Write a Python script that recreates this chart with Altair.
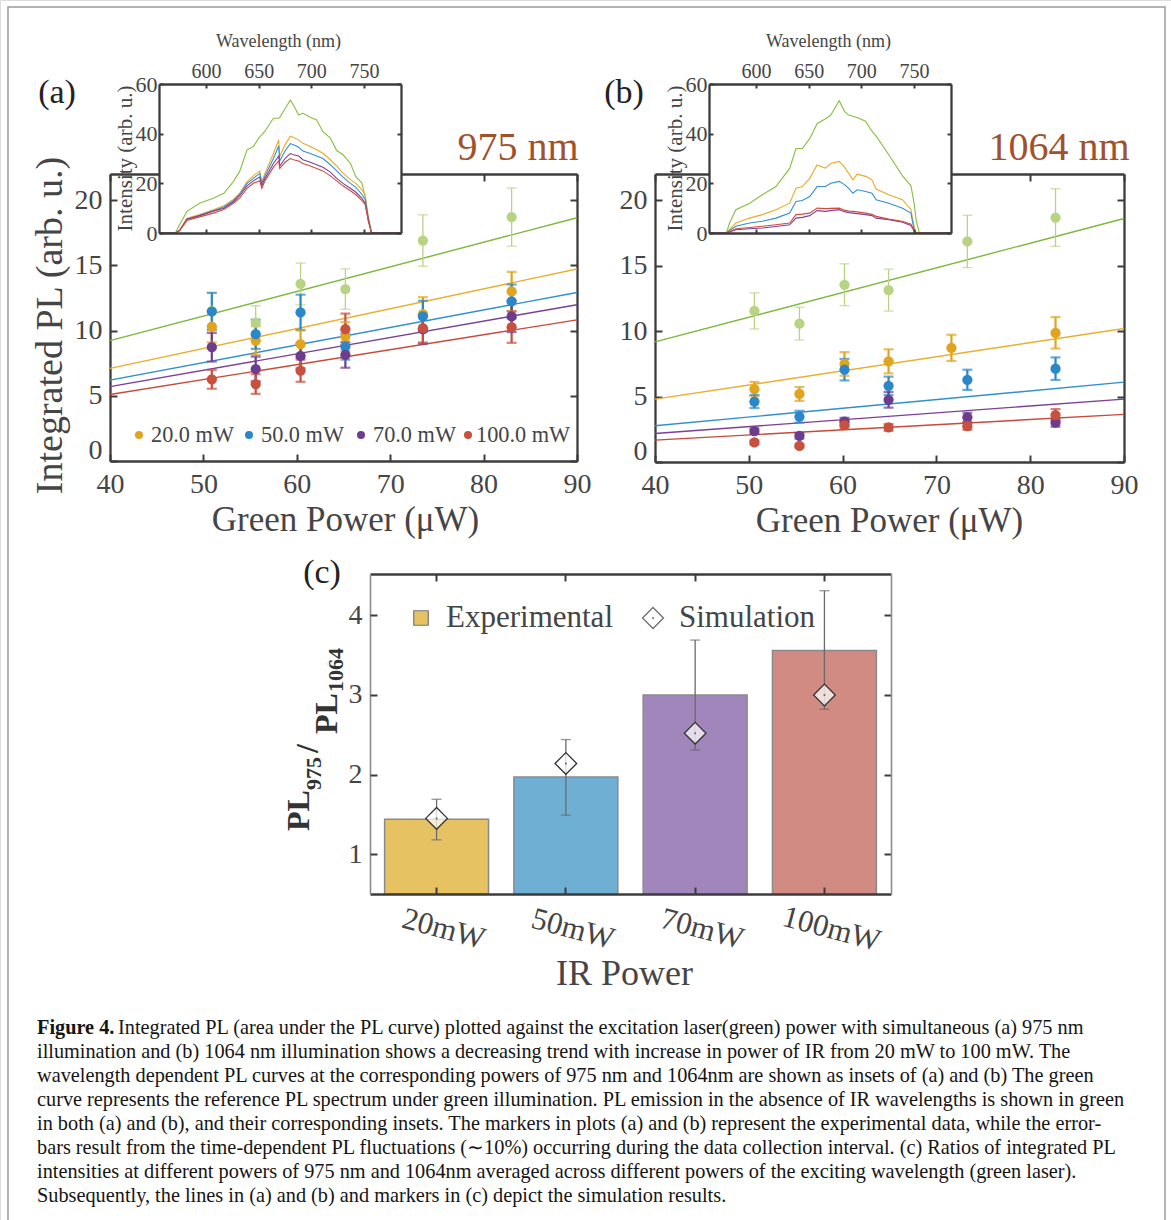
import altair as alt
import pandas as pd

W, H = 1171, 1220
SERIF = "Liberation Serif"
AXC = "#3c3c3c"
TXT = "#454545"

# ---------------- data ----------------
SERIES = ["0 mW", "20.0 mW", "50.0 mW", "70.0 mW", "100.0 mW"]
LEGEND_SERIES = SERIES[1:]
POINT_COLORS = ["#B7D383", "#E0A41E", "#2A87C9", "#6E3C8D", "#C8503F"]
LINE_COLORS = ["#7CB83B", "#E9B02E", "#2F8FD0", "#7C3F97", "#C9493A"]
SPEC_COLORS = ["#88BF42", "#EBAA24", "#3190D6", "#7E409B", "#D14C3C"]

LINE_X = [40, 90]

# panel (a): 975 nm
A_X = [50.9, 55.6, 60.4, 65.2, 73.5, 83.0]
A_Y = [
    [11.5, 10.6, 13.57, 13.18, 16.9, 18.7],
    [10.3, 9.23, 8.95, 9.54, 11.26, 13.0],
    [11.46, 9.72, 11.4, 8.77, 11.08, 12.23],
    [8.72, 7.05, 8.05, 8.13, 10.1, 11.08],
    [6.26, 5.9, 6.92, 10.1, 10.18, 10.26],
]
A_ERR = [
    [1.4, 1.3, 1.6, 1.55, 1.97, 2.23],
    [1.2, 1.1, 1.05, 1.1, 1.3, 1.5],
    [1.43, 1.12, 1.35, 1.0, 1.2, 1.3],
    [1.1, 0.95, 0.95, 0.98, 1.1, 1.2],
    [0.72, 0.75, 0.85, 1.2, 1.1, 1.2],
]
A_LINE = [[9.23, 18.65], [7.1, 14.72], [6.2, 12.92], [5.7, 11.98], [5.1, 10.82]]

# panel (b): 1064 nm
B_X = [
    [50.6, 55.4, 60.2, 64.9, 73.3, 82.7],
    [50.6, 55.4, 60.2, 64.9, 71.6, 82.7],
    [50.6, 55.4, 60.2, 64.9, 73.3, 82.7],
    [50.6, 55.4, 60.2, 64.9, 73.3, 82.7],
    [50.6, 55.4, 60.2, 64.9, 73.3, 82.7],
]
B_Y = [
    [11.54, 10.57, 13.54, 13.13, 16.85, 18.67],
    [5.57, 5.2, 7.49, 7.69, 8.72, 9.87],
    [4.62, 3.46, 7.05, 5.82, 6.28, 7.13],
    [2.36, 2.0, 3.08, 4.75, 3.41, 3.0],
    [1.49, 1.23, 2.82, 2.64, 2.74, 3.59],
]
B_ERR = [
    [1.38, 1.25, 1.6, 1.6, 2.0, 2.2],
    [0.55, 0.53, 0.9, 0.92, 1.0, 1.2],
    [0.5, 0.45, 0.82, 0.7, 0.77, 0.86],
    [0.2, 0.2, 0.3, 0.6, 0.35, 0.3],
    [0.15, 0.12, 0.28, 0.26, 0.27, 0.45],
]
B_LINE = [[9.18, 18.6], [4.8, 10.2], [2.77, 6.1], [2.18, 4.8], [1.67, 3.64]]

# inset spectra
WL_DOMAIN = [555.5, 785]
WL_A = [556, 571, 575, 582, 594, 607, 617, 626, 632, 639, 645, 651, 653, 656, 664, 669, 670, 675,
        680, 683, 688, 692, 699, 705, 711, 718, 724, 730, 737, 742, 748, 751, 754, 757, 785]
SPEC_A = [
    [0, 0, 3.3, 8.7, 12, 14, 16, 20.7, 24.8, 33.5, 34.8, 38.8, 39.5, 41, 46.2, 46.2, 46.5, 50,
     53.5, 51.5, 47.5, 48.2, 46.6, 45.5, 40.8, 38.2, 33.2, 31.5, 28.1, 22.8, 20.1, 14.7, 4.7, 0, 0],
    [0, 0, 1, 6, 7.4, 9.4, 11, 13.5, 16, 20.7, 23, 25, 20.7, 24, 32, 37.5, 30.8, 35.5,
     39, 38.5, 37.5, 36.1, 34.8, 33.5, 32.1, 29.5, 27, 24.1, 21.5, 20.1, 17.4, 15.4, 6.7, 0, 0],
    [0, 0, 1, 5.5, 7, 9, 10.5, 13, 15.5, 20, 22, 24, 20, 23, 30, 35, 29, 33,
     36, 35.5, 34.5, 33, 32, 31, 30, 27.5, 25, 22.5, 20, 18.5, 15.5, 13.5, 6, 0, 0],
    [0, 0, 1, 5.5, 7, 8.8, 10, 12.5, 15, 19, 21, 22.5, 19, 22, 28, 31, 27, 30,
     32, 31.5, 31, 29.5, 28.5, 27.5, 26.5, 24.5, 22, 20, 18, 16.5, 14, 12, 5.5, 0, 0],
    [0, 0, 1, 5, 6.5, 8, 9.5, 12, 14, 18, 20, 21, 18, 21, 26.5, 29, 26, 28.5,
     30, 29.5, 29, 28, 27, 26, 25, 23, 21, 19, 17, 15.5, 13, 11.5, 5, 0, 0],
]
WL_B = [556, 572, 575, 581, 594, 606, 619, 632, 638, 644, 651, 658, 666, 671, 679, 684, 688, 692,
        696, 704, 710, 714, 726, 739, 747, 750, 752, 755, 785]
SPEC_B = [
    [0, 0, 4, 9.4, 12, 15.4, 18.7, 26, 34, 34, 38, 44, 46, 47.5, 53.3, 49, 47.5, 47,
     46.5, 45, 41, 39, 31.5, 23, 19, 12, 5, 0, 0],
    [0, 0, 1.5, 4, 6, 7.4, 9.4, 12, 18, 18.7, 22, 27.4, 26.1, 28, 28.8, 26.5, 24, 21.4,
     23.7, 22.8, 21.4, 17.7, 15.4, 13.4, 9.4, 2.7, 0, 0, 0],
    [0, 0, 1, 2.7, 4, 4.7, 6, 8, 12.7, 13.1, 14.7, 18.7, 18.7, 20, 20.8, 19.5, 18, 16,
     17.4, 16.7, 16, 13.4, 12, 10, 8, 1.3, 0, 0, 0],
    [0, 0, 0.4, 1.3, 1.7, 2, 2.6, 3.3, 6, 6.3, 7, 9, 8.7, 9, 9.4, 8.6, 8.2, 8,
     7.8, 7.4, 7, 6, 5.4, 4.3, 3, 0.8, 0, 0, 0],
    [0, 0, 0.5, 1.7, 2.2, 2.7, 3.3, 4, 7.4, 7.6, 8, 10, 9.8, 9.9, 10, 9.2, 8.8, 8.7,
     8.5, 8, 7.5, 6.7, 5.6, 4.7, 3.5, 1, 0, 0, 0],
]

# panel (c)
C_CATS = ["20mW", "50mW", "70mW", "100mW"]
C_EXP = [1.44, 1.97, 3.0, 3.56]
C_LO = [1.18, 1.49, 2.31, 2.82]
C_HI = [1.69, 2.44, 3.69, 4.31]
C_SIM = [1.45, 2.14, 2.52, 3.0]
C_COLORS = ["#E6C263", "#70AFD4", "#A086BA", "#D18B83"]

CAPTION = [
    "illumination and (b) 1064 nm illumination shows a decreasing trend with increase in power of IR from 20 mW to 100 mW. The",
    "wavelength dependent PL curves at the corresponding powers of 975 nm and 1064nm are shown as insets of (a) and (b) The green",
    "curve represents the reference PL spectrum under green illumination. PL emission in the absence of IR wavelengths is shown in green",
    "in both (a) and (b), and their corresponding insets. The markers in plots (a) and (b) represent the experimental data, while the error-",
    "bars result from the time-dependent PL fluctuations (\u223c10%) occurring during the data collection interval. (c) Ratios of integrated PL",
    "intensities at different powers of 975 nm and 1064nm averaged across different powers of the exciting wavelength (green laser).",
    "Subsequently, the lines in (a) and (b) and markers in (c) depict the simulation results.",
]
CAPTION_FIRST = "Integrated PL (area under the PL curve) plotted against the excitation laser(green) power with simultaneous (a) 975 nm"

# ---------------- helpers ----------------
OPP = {"bottom": "top", "top": "bottom", "left": "right", "right": "left"}


def off(orient, pos):
    return {"bottom": pos - H, "top": -pos, "left": -pos, "right": pos - W}[orient]


def mk_axis(orient, pos, values, labels=False, ticks=False, domain=False, tick=7,
            dcolor=AXC, dwidth=2.3, z=0, lab=None, title=None, tkw=None):
    kw = dict(orient=orient, offset=off(orient, pos), values=values, grid=False, zindex=z,
              labels=labels, ticks=ticks, domain=domain, labelOverlap=False, labelFlush=False)
    if ticks:
        kw.update(tickSize=tick, tickColor=AXC, tickWidth=2)
    if domain:
        kw.update(domainColor=dcolor, domainWidth=dwidth)
    if labels and lab:
        kw.update(lab)
    if title is None:
        kw["title"] = None
    else:
        kw["title"] = title
        kw.update(tkw or {})
    return alt.Axis(**kw)


def box_axes(L, R, T, B, xvals, yvals, xside, tick, xlab, ylab, xtitle=None, xtkw=None,
             ytitle=None, ytkw=None, z=0, ydcolor=AXC, ydwidth=2.3):
    lab_pos = B if xside == "bottom" else T
    oth_pos = T if xside == "bottom" else B
    x1 = mk_axis(xside, lab_pos, xvals, labels=True, domain=True, lab=xlab, title=xtitle, tkw=xtkw, z=z)
    x2 = mk_axis(xside, oth_pos, xvals, ticks=True, domain=True, tick=tick, z=z)
    x3 = mk_axis(OPP[xside], lab_pos, xvals, ticks=True, tick=tick, z=z)
    y1 = mk_axis("left", L, yvals, labels=True, domain=True, lab=ylab, title=ytitle, tkw=ytkw, z=z,
                 dcolor=ydcolor, dwidth=ydwidth)
    y2 = mk_axis("left", R, yvals, ticks=True, domain=True, tick=tick, z=z, dcolor=ydcolor, dwidth=ydwidth)
    y3 = mk_axis("right", L, yvals, ticks=True, tick=tick, z=z)
    return [(x1, y1), (x2, y2), (x3, y3)]


def txt(s, x, y, size, color=TXT, bold=False, align="center", baseline="middle", angle=0):
    return alt.Chart(pd.DataFrame({"t": [s]})).mark_text(
        font=SERIF, fontSize=size, color=color, fontWeight="bold" if bold else "normal",
        align=align, baseline=baseline, angle=angle
    ).encode(x=alt.value(x), y=alt.value(y), text="t:N")


MAIN_XLAB = dict(labelFont=SERIF, labelFontSize=28, labelColor=TXT, labelPadding=9)
MAIN_YLAB = dict(labelFont=SERIF, labelFontSize=28, labelColor=TXT, labelPadding=8,
                 labelOffset=alt.condition("datum.value == 0", alt.value(-11), alt.value(0)))


def main_panel(L, R, T, B, xs_all, ys_all, errs_all, line_all, xtitle_x, ytitle):
    sx = alt.Scale(domain=[40, 90], range=[L, R], nice=False, zero=False)
    sy = alt.Scale(domain=[0, 22], range=[B, T], nice=False, zero=False)
    rows = []
    for s, xs, ys, es in zip(SERIES, xs_all, ys_all, errs_all):
        for x, y, e in zip(xs, ys, es):
            rows.append(dict(series=s, x=x, y=y, lo=y - e, hi=y + e))
    pts = pd.DataFrame(rows)
    lines = pd.DataFrame([dict(series=s, x=x, y=y) for s, ly in zip(SERIES, line_all)
                          for x, y in zip(LINE_X, ly)])
    xtkw = dict(titleFont=SERIF, titleFontSize=35, titleColor=TXT, titleFontWeight="normal",
                titleX=xtitle_x, titleY=58, titleBaseline="middle", titleAlign="center")
    ytkw = None
    if ytitle:
        ytkw = dict(titleFont=SERIF, titleFontSize=38, titleColor=TXT, titleFontWeight="normal",
                    titleX=50 - L, titleY=325, titleBaseline="middle", titleAlign="center", titleAngle=270)
    ax = box_axes(L, R, T, B, [40, 50, 60, 70, 80, 90], [0, 5, 10, 15, 20], "bottom", 7,
                  MAIN_XLAB, MAIN_YLAB, "Green Power (\u03bcW)", xtkw, ytitle, ytkw)
    cs = alt.Scale(domain=SERIES, range=POINT_COLORS)
    line_layer = alt.Chart(lines).mark_line(strokeWidth=1.4).encode(
        x=alt.X("x:Q", scale=sx, axis=ax[0][0]),
        y=alt.Y("y:Q", scale=sy, axis=ax[0][1]),
        color=alt.Color("series:N", scale=alt.Scale(domain=SERIES, range=LINE_COLORS), legend=None),
    )

    def err_layers(df, width, axes_pair, cap):
        rule = alt.Chart(df).mark_rule(strokeWidth=width).encode(
            x=alt.X("x:Q", scale=sx, axis=axes_pair[0]),
            y=alt.Y("lo:Q", scale=sy, axis=axes_pair[1]), y2="hi:Q",
            color=alt.Color("series:N", scale=cs, legend=None))
        caps = [alt.Chart(df).mark_tick(orient="horizontal", size=cap, thickness=width).encode(
            x=alt.X("x:Q", scale=sx, axis=None),
            y=alt.Y(f"{f}:Q", scale=sy, axis=None),
            color=alt.Color("series:N", scale=cs, legend=None)) for f in ("lo", "hi")]
        return [rule] + caps

    green = pts[pts.series == SERIES[0]]
    colored = pts[pts.series != SERIES[0]]
    pts_layer = alt.Chart(pts).mark_circle(size=105, opacity=1).encode(
        x=alt.X("x:Q", scale=sx, axis=None),
        y=alt.Y("y:Q", scale=sy, axis=None),
        color=alt.Color("series:N", scale=cs, legend=None),
    )
    return alt.layer(line_layer, *err_layers(green, 1.3, ax[1], 10), *err_layers(colored, 2.2, ax[2], 10),
                     pts_layer).resolve_axis(x="independent", y="independent").resolve_scale(color="independent")


def inset(L, R, T, B, wl, curves, title_x):
    sx = alt.Scale(domain=WL_DOMAIN, range=[L, R], nice=False, zero=False)
    sy = alt.Scale(domain=[0, 60], range=[B, T], nice=False, zero=False)
    xlab = dict(labelFont=SERIF, labelFontSize=20, labelColor=TXT, labelPadding=3)
    ylab = dict(labelFont=SERIF, labelFontSize=22, labelColor=TXT, labelPadding=2)
    xtkw = dict(titleFont=SERIF, titleFontSize=18, titleColor=TXT, titleFontWeight="normal",
                titleX=title_x, titleY=41 - T, titleBaseline="middle", titleAlign="center")
    ytkw = dict(titleFont=SERIF, titleFontSize=21, titleColor=TXT, titleFontWeight="normal",
                titleX=-34, titleY=158, titleBaseline="middle", titleAlign="center", titleAngle=270)
    ax = box_axes(L, R, T, B, [600, 650, 700, 750], [0, 20, 40, 60], "top", 4, xlab, ylab,
                  "Wavelength (nm)", xtkw, "Intensity (arb. u.)", ytkw, z=1)
    bg = alt.Chart(pd.DataFrame({"x0": [WL_DOMAIN[0]], "x1": [WL_DOMAIN[1]], "y0": [0], "y1": [60]})).mark_rect(
        fill="white").encode(
        x=alt.X("x0:Q", scale=sx, axis=ax[2][0]), x2="x1:Q",
        y=alt.Y("y0:Q", scale=sy, axis=ax[2][1]), y2="y1:Q")
    df = pd.DataFrame([dict(series=s, wl=w, v=v) for s, c in zip(SERIES, curves) for w, v in zip(wl, c)])
    cs = alt.Scale(domain=SERIES, range=SPEC_COLORS)
    g = alt.Chart(df[df.series == SERIES[0]]).mark_line(strokeWidth=1.1).encode(
        x=alt.X("wl:Q", scale=sx, axis=ax[0][0]), y=alt.Y("v:Q", scale=sy, axis=ax[0][1]),
        color=alt.Color("series:N", scale=cs, legend=None))
    o = alt.Chart(df[df.series != SERIES[0]]).mark_line(strokeWidth=1.1).encode(
        x=alt.X("wl:Q", scale=sx, axis=ax[1][0]), y=alt.Y("v:Q", scale=sy, axis=ax[1][1]),
        color=alt.Color("series:N", scale=cs, legend=None))
    return alt.layer(bg, g, o).resolve_axis(x="independent", y="independent")


def panel_c():
    L, R, T, B = 370, 891, 574, 894
    sx = alt.Scale(domain=C_CATS, range=[L, R], paddingInner=0.196, paddingOuter=0.113)
    sy = alt.Scale(domain=[0.5, 4.52], range=[B, T], nice=False, zero=False)
    xlab = dict(labelFont=SERIF, labelFontSize=31, labelColor=TXT, labelPadding=35, labelAngle=15,
                labelAlign="center", labelBaseline="middle", labelOffset=7)
    ylab = dict(labelFont=SERIF, labelFontSize=28, labelColor=TXT, labelPadding=8)
    xtkw = dict(titleFont=SERIF, titleFontSize=36, titleColor=TXT, titleFontWeight="normal",
                titleX=624, titleY=79, titleBaseline="middle", titleAlign="center")
    ax = box_axes(L, R, T, B, C_CATS, [1, 2, 3, 4], "bottom", 7, xlab, ylab, "IR Power", xtkw,
                  None, None, z=1, ydcolor="#8c8c8c", ydwidth=1.6)
    df = pd.DataFrame(dict(cat=C_CATS, exp=C_EXP, lo=C_LO, hi=C_HI, sim=C_SIM))
    bars = alt.Chart(df).mark_bar(stroke="#8a8a8a", strokeWidth=1.5).encode(
        x=alt.X("cat:N", scale=sx, axis=ax[0][0], sort=C_CATS),
        y=alt.Y("exp:Q", scale=sy, axis=ax[0][1]), y2=alt.datum(0.5),
        color=alt.Color("cat:N", scale=alt.Scale(domain=C_CATS, range=C_COLORS), legend=None))
    rule = alt.Chart(df).mark_rule(color="#6a6a6a", strokeWidth=1.3).encode(
        x=alt.X("cat:N", scale=sx, axis=ax[1][0], sort=C_CATS),
        y=alt.Y("lo:Q", scale=sy, axis=ax[1][1]), y2="hi:Q")
    caps = [alt.Chart(df).mark_tick(orient="horizontal", size=10, thickness=1.3, color="#6a6a6a").encode(
        x=alt.X("cat:N", scale=sx, axis=None, sort=C_CATS),
        y=alt.Y(f"{f}:Q", scale=sy, axis=None)) for f in ("lo", "hi")]
    dia = alt.Chart(df).mark_point(shape="diamond", size=470, filled=True, fill="white", fillOpacity=0.72,
                                   stroke="#333333", strokeWidth=1.3).encode(
        x=alt.X("cat:N", scale=sx, axis=ax[2][0], sort=C_CATS),
        y=alt.Y("sim:Q", scale=sy, axis=ax[2][1]))
    dot = alt.Chart(df).mark_point(shape="circle", size=4, filled=True, color="#333333").encode(
        x=alt.X("cat:N", scale=sx, axis=None, sort=C_CATS),
        y=alt.Y("sim:Q", scale=sy, axis=None))
    return alt.layer(bars, rule, *caps, dia, dot).resolve_axis(x="independent", y="independent")


# ---------------- assemble ----------------
frame = alt.Chart(pd.DataFrame({"a": [0]})).mark_rect(fillOpacity=0, stroke="#9a9a9a", strokeWidth=1.5).encode(
    x=alt.value(8), x2=alt.value(1165), y=alt.value(7), y2=alt.value(1240))

pa = main_panel(110, 577, 174, 461, [A_X] * 5, A_Y, A_ERR, A_LINE, 345, "Integrated PL (arb. u.)")
pb = main_panel(655, 1124, 174, 462, B_X, B_Y, B_ERR, B_LINE, 889, None)
ia = inset(159, 401, 84, 233, WL_A, SPEC_A, 278)
ib = inset(709, 951, 84, 233, WL_B, SPEC_B, 828)
pc = panel_c()

# legend of panel (a): one marker + label per IR power
LEG_DOT_X = [139, 249, 361, 468]
LEG_LAB_X = [151, 261, 373, 476]
leg_a = []
for s, c, dx, lx in zip(LEGEND_SERIES, POINT_COLORS[1:], LEG_DOT_X, LEG_LAB_X):
    leg_a.append(alt.Chart(pd.DataFrame({"a": [0]})).mark_circle(size=64, color=c, opacity=1).encode(
        x=alt.value(dx), y=alt.value(435)))
    leg_a.append(txt(s, lx, 435, 22.3, align="left"))

CAP_SIZE = 20.3
CAP_COLOR = "#151515"
texts = [
    txt("(a)", 57, 93, 34, color="#222222"),
    txt("(b)", 624, 93, 34, color="#222222"),
    txt("(c)", 322, 573, 34, color="#222222"),
    txt("975 nm", 518, 148, 40, color="#A0522D"),
    txt("1064 nm", 1059, 148, 40, color="#A0522D"),
    # panel (c) y label PL975 / PL1064
    txt("PL", 299, 831, 32, color="#333333", bold=True, align="left", angle=270),
    txt("975", 314, 790, 22, color="#333333", bold=True, align="left", angle=270),
    txt("/", 308, 753, 32, color="#333333", bold=True, align="left", angle=270),
    txt("PL", 327, 734, 32, color="#333333", bold=True, align="left", angle=270),
    txt("1064", 336, 692, 22, color="#333333", bold=True, align="left", angle=270),
    # panel (c) legend
    txt("Experimental", 446, 618, 31, align="left"),
    txt("Simulation", 679, 618, 31, align="left"),
    # caption
    txt("Figure 4.", 37, 1028, CAP_SIZE, color=CAP_COLOR, bold=True, align="left"),
    txt(CAPTION_FIRST, 118, 1028, CAP_SIZE, color=CAP_COLOR, align="left"),
]
for i, line in enumerate(CAPTION):
    texts.append(txt(line, 37, 1052 + 24 * i, CAP_SIZE, color=CAP_COLOR, align="left"))

leg_c = [
    alt.Chart(pd.DataFrame({"a": [0]})).mark_square(size=210, color="#E6C263", stroke="#777777",
                                                     strokeWidth=1.2, opacity=1).encode(
        x=alt.value(421), y=alt.value(618)),
    alt.Chart(pd.DataFrame({"a": [0]})).mark_point(shape="diamond", size=440, filled=True, fill="white",
                                                    stroke="#333333", strokeWidth=1.3).encode(
        x=alt.value(653), y=alt.value(618)),
    alt.Chart(pd.DataFrame({"a": [0]})).mark_point(shape="circle", size=4, filled=True, color="#333333").encode(
        x=alt.value(653), y=alt.value(618)),
]

chart = alt.layer(frame, pa, pb, ia, ib, pc, *leg_a, *leg_c, *texts).resolve_scale(
    x="independent", y="independent", color="independent"
).properties(
    width=W, height=H, padding=0, autosize=alt.AutoSizeParams(type="none")
).configure_view(strokeWidth=0).configure(background="white")

chart.save("out.html", embed_options={"renderer": "svg", "actions": False})
